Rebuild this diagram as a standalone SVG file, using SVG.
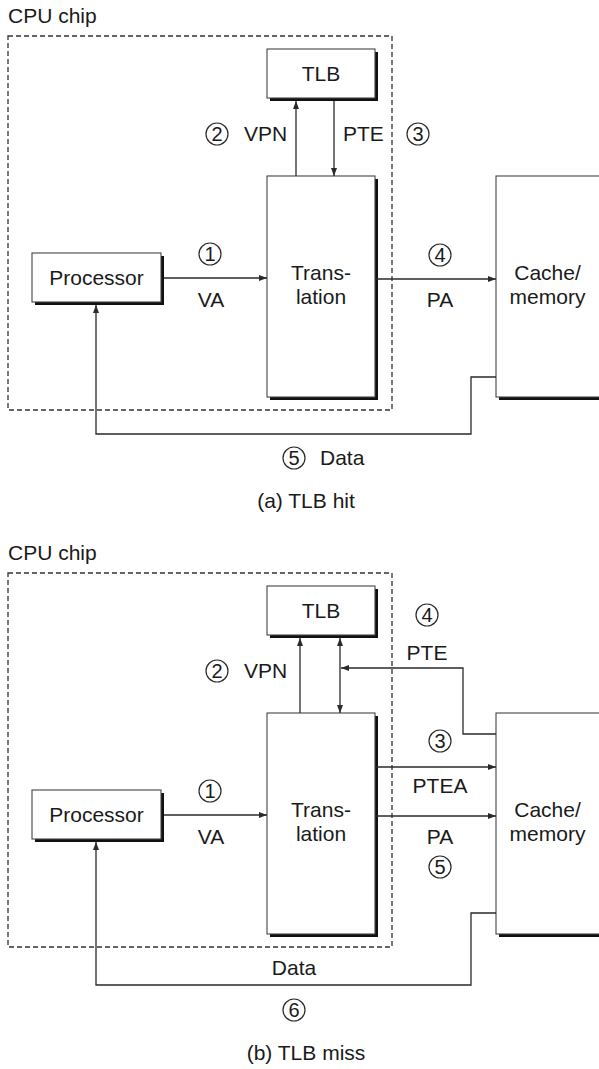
<svg xmlns="http://www.w3.org/2000/svg" width="599" height="1069" viewBox="0 0 599 1069">
<style>
.t{font-family:"Liberation Sans",Arial,Helvetica,sans-serif;font-size:21px;fill:#1a1a1a}
.c{text-anchor:middle}
.n{font-size:20px;text-anchor:middle}
.box{fill:#fff;stroke:#444;stroke-width:1.1}
.sh{fill:#111}
.ln{fill:none;stroke:#2a2a2a;stroke-width:1.3}
.chip{fill:none;stroke:#333;stroke-width:1.3;stroke-dasharray:5 3}
.cir{fill:none;stroke:#2a2a2a;stroke-width:1.2}
</style>
<defs>
<marker id="ah" markerUnits="userSpaceOnUse" markerWidth="8" markerHeight="6" refX="8" refY="3" orient="auto-start-reverse"><path d="M0,0 L8,3 L0,6 z" fill="#2a2a2a"/></marker>
</defs>

<!-- Diagram (a) -->
<g id="a-chip"><text class="t" x="8" y="23">CPU chip</text><rect class="chip" x="8" y="36" width="384" height="374"/></g>
<g id="a-tlb"><rect class="sh" x="270" y="52" width="108" height="49"/><rect class="box" x="267" y="49" width="108" height="49"/><text class="t c" x="321" y="81">TLB</text></g>
<g id="a-trans"><rect class="sh" x="270" y="179" width="108" height="221"/><rect class="box" x="267" y="176" width="108" height="221"/><text class="t c" x="321" y="280">Trans-</text><text class="t c" x="321" y="304">lation</text></g>
<g id="a-proc"><rect class="sh" x="35" y="256" width="129" height="49"/><rect class="box" x="32" y="253" width="129" height="49"/><text class="t c" x="96.5" y="285">Processor</text></g>
<g id="a-cache"><rect class="sh" x="499" y="179" width="110" height="221"/><rect class="box" x="496" y="176" width="110" height="221"/><text class="t c" x="547.5" y="280">Cache/</text><text class="t c" x="547.5" y="304">memory</text></g>
<g id="a-connectors">
<path class="ln" d="M164,278 H267" marker-end="url(#ah)"/>
<path class="ln" d="M296,176 V101" marker-end="url(#ah)"/>
<path class="ln" d="M334,101 V176" marker-end="url(#ah)"/>
<path class="ln" d="M375,279 H496" marker-end="url(#ah)"/>
<path class="ln" d="M496,377 H471 V434 H96 V305" marker-end="url(#ah)"/>
</g>
<g id="a-labels">
<circle class="cir" cx="210" cy="254" r="11"/><text class="t n" x="210" y="261">1</text>
<text class="t c" x="211" y="307">VA</text>
<circle class="cir" cx="217" cy="134" r="11"/><text class="t n" x="217" y="141">2</text>
<text class="t" x="244" y="141">VPN</text>
<text class="t" x="343" y="141">PTE</text>
<circle class="cir" cx="418" cy="134" r="11"/><text class="t n" x="418" y="141">3</text>
<circle class="cir" cx="440" cy="255" r="11"/><text class="t n" x="440" y="262">4</text>
<text class="t c" x="440" y="307">PA</text>
<circle class="cir" cx="294" cy="458" r="11"/><text class="t n" x="294" y="465">5</text>
<text class="t" x="320" y="465">Data</text>
<text class="t c" x="306" y="508">(a) TLB hit</text>
</g>

<!-- Diagram (b) -->
<g id="b-chip"><text class="t" x="8" y="560">CPU chip</text><rect class="chip" x="8" y="573" width="384" height="374"/></g>
<g id="b-tlb"><rect class="sh" x="270" y="589" width="108" height="49"/><rect class="box" x="267" y="586" width="108" height="49"/><text class="t c" x="321" y="618">TLB</text></g>
<g id="b-trans"><rect class="sh" x="270" y="716" width="108" height="221"/><rect class="box" x="267" y="713" width="108" height="221"/><text class="t c" x="321" y="817">Trans-</text><text class="t c" x="321" y="841">lation</text></g>
<g id="b-proc"><rect class="sh" x="35" y="793" width="129" height="49"/><rect class="box" x="32" y="790" width="129" height="49"/><text class="t c" x="96.5" y="822">Processor</text></g>
<g id="b-cache"><rect class="sh" x="499" y="716" width="110" height="221"/><rect class="box" x="496" y="713" width="110" height="221"/><text class="t c" x="547.5" y="817">Cache/</text><text class="t c" x="547.5" y="841">memory</text></g>
<g id="b-connectors">
<path class="ln" d="M164,815 H267" marker-end="url(#ah)"/>
<path class="ln" d="M300,713 V638" marker-end="url(#ah)"/>
<path class="ln" d="M340,638 V713" marker-start="url(#ah)" marker-end="url(#ah)"/>
<path class="ln" d="M496,734 H463 V668 H341" marker-end="url(#ah)"/>
<path class="ln" d="M375,767 H496" marker-end="url(#ah)"/>
<path class="ln" d="M375,816 H496" marker-end="url(#ah)"/>
<path class="ln" d="M496,913 H471 V985 H96 V842" marker-end="url(#ah)"/>
</g>
<g id="b-labels">
<circle class="cir" cx="427" cy="615" r="11"/><text class="t n" x="427" y="622">4</text>
<text class="t c" x="427" y="660">PTE</text>
<circle class="cir" cx="217" cy="671" r="11"/><text class="t n" x="217" y="678">2</text>
<text class="t" x="244" y="678">VPN</text>
<circle class="cir" cx="440" cy="741" r="11"/><text class="t n" x="440" y="748">3</text>
<text class="t c" x="440" y="793">PTEA</text>
<circle class="cir" cx="210" cy="791" r="11"/><text class="t n" x="210" y="798">1</text>
<text class="t c" x="211" y="844">VA</text>
<text class="t c" x="440" y="844">PA</text>
<circle class="cir" cx="440" cy="867" r="11"/><text class="t n" x="440" y="874">5</text>
<text class="t c" x="294" y="975">Data</text>
<circle class="cir" cx="294" cy="1010" r="11"/><text class="t n" x="294" y="1017">6</text>
<text class="t c" x="306" y="1060">(b) TLB miss</text>
</g>
</svg>
